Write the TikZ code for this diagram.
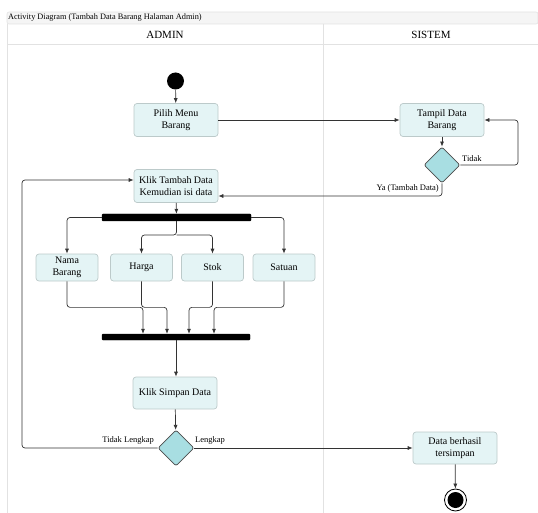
\documentclass[tikz,border=0pt]{standalone}
\usepackage{fontspec}
\setmainfont{Liberation Serif}
\usetikzlibrary{arrows.meta,shapes.geometric}
\definecolor{boxfill}{HTML}{E4F4F5}
\definecolor{boxline}{HTML}{BCCACA}
\definecolor{diafill}{HTML}{A8DEE2}
\definecolor{lanegrey}{HTML}{E2E2E2}
\definecolor{titlefill}{HTML}{F5F5F5}
\begin{document}
\begin{tikzpicture}[x=1pt,y=-1pt,
  act/.style={draw=boxline, fill=boxfill, rounded corners=3pt, line width=0.7pt,
    minimum width=84pt, minimum height=33pt, align=center, font=\fontsize{10}{12}\selectfont, inner sep=1pt},
  small/.style={act, minimum width=62pt, minimum height=27pt},
  dec/.style={diamond, draw=black!70, fill=diafill, line width=0.8pt, rounded corners=2pt,
    minimum width=36pt, minimum height=36pt, inner sep=0pt},
  bar/.style={fill=black, draw=black, rounded corners=1pt, inner sep=0pt},
  arr/.style={-{Latex[length=5pt,width=4pt]}, line width=0.7pt, draw=black!80, rounded corners=3pt},
  lbl/.style={font=\fontsize{8.5}{10}\selectfont, inner sep=1pt},
  lane/.style={draw=lanegrey, line width=0.6pt}
]
\useasboundingbox (0,0) rectangle (538,513);
% frame and lanes
\draw[lane, fill=titlefill, rounded corners=2pt] (7,12) -- (538,12) -- (538,24) -- (7,24) -- cycle;
\draw[lane] (7,24) -- (7,513);
\draw[lane] (7,44.5) -- (538,44.5);
\draw[lane] (323,24) -- (323,513);
\node[anchor=west, font=\fontsize{8.3}{9}\selectfont, inner sep=0pt] (title) at (8,18) {Activity Diagram (Tambah Data Barang Halaman Admin)};
\node[font=\fontsize{11}{12}\selectfont] (hadmin) at (165,34.5) {ADMIN};
\node[font=\fontsize{11}{12}\selectfont] (hsistem) at (431,34.5) {SISTEM};

% nodes
\node[circle, fill=black, minimum size=17pt, inner sep=0pt] (start) at (175.5,81) {};
\node[act] (pilih) at (176,120) {Pilih Menu\\Barang};
\node[act] (tampil) at (442,120) {Tampil Data\\Barang};
\node[dec] (d1) at (442,165) {};
\node[act] (tambah) at (176,186) {Klik Tambah Data\\Kemudian isi data};
\node[bar, minimum width=149pt, minimum height=7pt] (fork) at (176.5,217.5) {};
\node[small] (nama) at (67,267.5) {Nama\\Barang};
\node[small] (harga) at (141.5,267.5) {Harga};
\node[small] (stok) at (212.5,267.5) {Stok};
\node[small] (satuan) at (284,267.5) {Satuan};
\node[bar, minimum width=148pt, minimum height=6pt] (join) at (176,337) {};
\node[act, minimum height=32pt] (simpan) at (175,393) {Klik Simpan Data};
\node[dec] (d2) at (176,448) {};
\node[act, minimum height=32pt] (hasil) at (455,448) {Data berhasil\\tersimpan};
\node[circle, draw=black, line width=0.8pt, fill=white, minimum size=22pt, inner sep=0pt] (endo) at (455.5,500) {};
\node[circle, fill=black, minimum size=16pt, inner sep=0pt] (endi) at (455.5,500) {};

% connectors
\draw[arr] (start) -- (pilih);
\draw[arr] (pilih.east) -- (tampil.west);
\draw[arr] (tampil) -- (d1);
\coordinate (loopr) at (518,165);
\draw[arr] (d1.east) -- (loopr) |- (tampil.east);
\node[lbl, anchor=south west] (ltidak) at (461,163) {Tidak};
\draw[arr] (d1.south) |- ([yshift=-10pt]tambah.east);
\node[lbl, anchor=south east] (lya) at (440,194) {Ya (Tambah Data)};
\draw[arr] (tambah) -- (fork);
\draw[arr] (fork.west) -| (nama.north);
\draw[arr] (fork.east) -| (satuan.north);
\coordinate (mid) at (176.5,235);
\draw[arr] (fork.south) -- (mid) -| (harga.north);
\draw[arr] (mid) -| (stok.north);
\draw[arr] (nama.south) -- ++(0,26) -| ([xshift=-33pt]join.north);
\draw[arr] (harga.south) -- ++(0,26) -| ([xshift=-9pt]join.north);
\draw[arr] (stok.south) -- ++(0,26) -| ([xshift=13pt]join.north);
\draw[arr] (satuan.south) -- ++(0,26) -| ([xshift=38pt]join.north);
\draw[arr] (join.south) -- (join.south |- simpan.north);
\draw[arr] (simpan) -- (d2);
\draw[arr] (d2.east) -- (hasil.west);
\node[lbl, anchor=south west] (llengkap) at (194,446) {Lengkap};
\coordinate (loopl) at (22,448);
\draw[arr] (d2.west) -- (loopl) |- ([yshift=6pt]tambah.west);
\node[lbl, anchor=south east] (ltl) at (155,446) {Tidak Lengkap};
\draw[arr] (hasil) -- (endo);
\end{tikzpicture}
\end{document}
